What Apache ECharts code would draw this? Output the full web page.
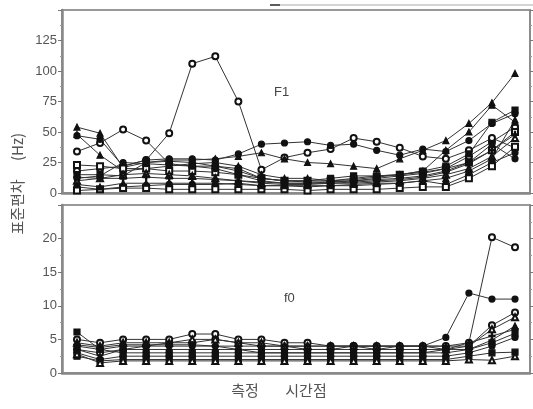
<!DOCTYPE html>
<html><head><meta charset="utf-8">
<script src="https://cdn.jsdelivr.net/npm/echarts@6/dist/echarts.min.js"></script>
<style>html,body{margin:0;padding:0;background:#fff}#c{width:533px;height:409px}</style>
</head><body><div id="c"></div>
<script>
// time points 1..20
var timePoints = [1,2,3,4,5,6,7,8,9,10,11,12,13,14,15,16,17,18,19,20];
var f1Ticks = [0,25,50,75,100,125];
var f0Ticks = [0,5,10,15,20];

// F1 standard deviation (Hz)
var f1A = [34,41,52,43,24,22,22,20,12,10,9,9,10,12,14,16,20,30,42,54];
var f1B = [18,20,22,27,49,106,112,75,19,29,33,36,45,42,37,30,28,35,45,37];
var f1C = [47,44,22,27,28,28,27,32,40,41,42,39,40,35,31,36,34,43,57,65];
var f1D = [54,49,21,25,27,27,28,30,33,28,25,24,22,20,28,35,43,57,74,98];
var f1E = [48,31,18,20,22,24,25,22,15,12,12,10,12,14,15,18,35,50,72,58];
var f1F = [23,22,20,20,18,18,17,15,12,10,10,10,11,13,15,17,20,25,35,50];
var f1G = [15,15,14,25,26,25,22,18,12,10,10,12,14,14,15,18,22,32,58,68];
var f1H = [12,14,25,24,23,22,20,15,10,8,8,9,10,11,12,14,18,25,40,28];
var f1I = [10,12,15,16,15,14,12,10,8,7,7,8,8,9,10,12,15,20,30,45];
var f1J = [13,12,12,13,12,12,11,10,9,8,8,8,9,10,11,13,17,24,35,48];
var f1K = [5,3,5,6,7,7,7,8,6,6,5,6,6,7,8,10,7,15,25,33];
var f1L = [2,3,4,4,3,3,3,3,3,3,2,3,3,3,4,5,5,12,22,38];
var f1M = [7,5,8,8,8,8,8,7,6,6,6,6,7,8,8,10,12,18,28,60];

// f0 standard deviation (Hz)
var f0A = [3.5,3,3.5,4,4.5,4.5,5,4.5,4,4,3.5,3.5,4,3.5,3.5,3.5,3.5,4.5,20.2,18.7];
var f0B = [4,3.5,4,4,4,4,4,3.5,3.5,3.5,3.5,3.5,3.5,3.5,4,4,5.3,11.9,11,11];
var f0C = [5,4.5,5,5,5,5.8,5.8,5,5,4.5,4.5,4,4,4,4,4,4,4,7.1,9];
var f0D = [4.5,4,4.5,4.5,4.5,5,5,4.5,4.5,4,4,4,4,4,4,4,3.5,4,6.5,8.3];
var f0E = [6.1,3.5,3,3,3,3,3,3,3,3,3,3,3,3,3,3,3.5,3.5,4.5,5.9];
var f0F = [3.5,2.5,3.5,3.5,3.5,3.5,3.5,3.5,3,3,3,3,3,3,3,3,3,3.5,4.9,7];
var f0G = [3,2,2.5,2.5,2.5,2.5,2.5,2.5,2.5,2.5,2.5,2.5,2.5,2.5,2.5,2.5,2.5,3,4,5.3];
var f0H = [2.5,1.8,2,2,2,2,2,2,2,2,2,2,2,2,2,2,2,2.5,3,3.1];
var f0I = [2.8,1.5,1.8,1.8,1.8,1.8,1.8,1.8,1.8,1.8,1.8,1.8,1.8,1.8,1.8,1.8,1.8,2,1.9,2.5];
var f0J = [4.2,3.8,4.2,4.2,4.2,4.2,4,4,4,4,4,4,4,4,4,4,4,4.5,5.5,6.5];

var PLUS = 'path://M4,0H6V4H10V6H6V10H4V6H0V4H4Z';
var f1Series = [[f1A,'emptyCircle'],[f1B,'emptyCircle'],[f1C,'circle'],[f1D,'triangle'],[f1E,'triangle'],
  [f1F,'emptyRect'],[f1G,'rect'],[f1H,'circle'],[f1I,'emptyTriangle'],[f1J,PLUS],[f1K,'circle'],[f1L,'emptyRect'],[f1M,'triangle']];
var f0Series = [[f0A,'emptyCircle'],[f0B,'circle'],[f0C,'emptyCircle'],[f0D,'emptyTriangle'],[f0E,'rect'],
  [f0F,'triangle'],[f0G,'circle'],[f0H,'rect'],[f0I,'emptyTriangle'],[f0J,PLUS]];

function mk(arr, sym, idx) {
  return {
    type: 'line', xAxisIndex: idx, yAxisIndex: idx * 2,
    data: arr.map(function (v, i) { return [timePoints[i], v]; }),
    symbol: sym, symbolSize: 6, showSymbol: true,
    lineStyle: { color: '#333', width: 1 },
    itemStyle: { color: '#111', borderColor: '#111', borderWidth: 1.2 },
    emphasis: { disabled: true }, animation: false, z: 3
  };
}

var series = [];
f1Series.forEach(function (s) { series.push(mk(s[0], s[1], 0)); });
f0Series.forEach(function (s) { series.push(mk(s[0], s[1], 1)); });

function yAx(gi, max, interval, ticks, pos) {
  var right = pos === 'right';
  return {
    type: 'value', gridIndex: gi, min: 0, max: max, interval: interval, position: pos,
    axisLine: { show: true, lineStyle: { color: '#888', width: right ? 1.5 : 2.5 } },
    axisTick: { show: true, length: 4, lineStyle: { color: '#777' } },
    minorTick: { show: true, splitNumber: 2, length: 2, lineStyle: { color: '#999' } },
    splitLine: { show: false },
    axisLabel: { show: !right, color: '#555', fontSize: 13, fontFamily: 'Liberation Sans, Arial', margin: 5,
      formatter: function (v) { return ticks.indexOf(v) >= 0 ? String(v) : ''; } }
  };
}
function xAx(gi) {
  return {
    type: 'value', gridIndex: gi, min: 0.35, max: 20.65,
    axisLine: { show: true, lineStyle: { color: '#888', width: 2.5 } },
    axisTick: { show: false }, axisLabel: { show: false }, splitLine: { show: false }
  };
}

var lblFont = 'Noto Sans CJK KR';
var chart = echarts.init(document.getElementById('c'), null, { renderer: 'canvas' });
chart.setOption({
  backgroundColor: '#fff',
  animation: false,
  grid: [
    { left: 62, right: 3, top: 10, height: 183, show: true, borderColor: '#999', borderWidth: 2, backgroundColor: 'transparent' },
    { left: 62, right: 3, top: 205, height: 168, show: true, borderColor: '#999', borderWidth: 2, backgroundColor: 'transparent' }
  ],
  xAxis: [xAx(0), xAx(1)],
  yAxis: [yAx(0, 150, 25, f1Ticks, 'left'), yAx(0, 150, 25, f1Ticks, 'right'),
          yAx(1, 25, 5, f0Ticks, 'left'), yAx(1, 25, 5, f0Ticks, 'right')],
  series: series,
  graphic: [
    { type: 'line', shape: { x1: 270, y1: 5, x2: 533, y2: 5 }, style: { stroke: '#aaa', lineWidth: 1 } },
    { type: 'line', shape: { x1: 270, y1: 5, x2: 280, y2: 5 }, style: { stroke: '#333', lineWidth: 1.5 } },
    { type: 'text', left: 274, top: 86, style: { text: 'F1', fill: '#444', fontSize: 13, fontFamily: 'Liberation Sans, Arial' } },
    { type: 'text', left: 284, top: 292, style: { text: 'f0', fill: '#444', fontSize: 13, fontFamily: 'Liberation Sans, Arial' } },
    { type: 'text', x: 17, y: 207, rotation: Math.PI / 2,
      style: { text: '표준편차', fill: '#555', fontSize: 15, fontFamily: lblFont, align: 'center', verticalAlign: 'middle' } },
    { type: 'text', x: 17, y: 147, rotation: Math.PI / 2,
      style: { text: '(Hz)', fill: '#555', fontSize: 15, fontFamily: lblFont, align: 'center', verticalAlign: 'middle' } },
    { type: 'text', x: 245, y: 390,
      style: { text: '측정', fill: '#555', fontSize: 15, fontFamily: lblFont, align: 'center', verticalAlign: 'middle' } },
    { type: 'text', x: 306, y: 390,
      style: { text: '시간점', fill: '#555', fontSize: 15, fontFamily: lblFont, align: 'center', verticalAlign: 'middle' } }
  ]
});
</script></body></html>
